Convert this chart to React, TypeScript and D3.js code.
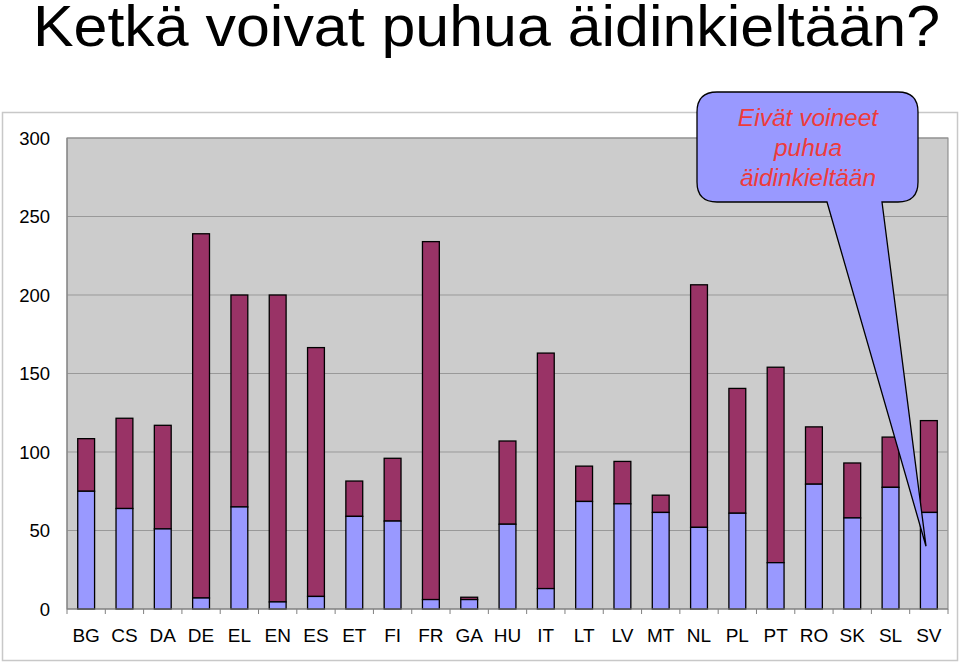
import React from "react";
import * as d3 from "d3";

const categories = ["BG","CS","DA","DE","EL","EN","ES","ET","FI","FR","GA","HU","IT","LT","LV","MT","NL","PL","PT","RO","SK","SL","SV"];
const couldSpeak = [75,64,51,7,65,4.5,8,59,56,6,6,54,13,68.5,67,61.5,52,61,29.5,79.5,58,77.5,61.5];
const totals = [108.5,121.5,117,239,200,200,166.5,81.5,96,234,7.5,107,163,91,94,72.5,206.5,140.5,154,116,93,109.5,120];
const yTicks = [0,50,100,150,200,250,300];
const titleText = "Ketkä voivat puhua äidinkieltään?";
const calloutLines = ["Eivät voineet","puhua","äidinkieltään"];

const W = 960, H = 663;
const left = 67, right = 948, top = 138, bottom = 609;

export default function App() {
  const x = d3.scaleBand<string>().domain(categories).range([left, right]).padding(0);
  const y = d3.scaleLinear().domain([0, 300]).range([bottom, top]);
  const bw = x.bandwidth() * 0.44;
  const font = "'Liberation Sans', Arial, sans-serif";
  const data = categories.map((c, i) => ({ c, a: couldSpeak[i], t: totals[i] }));

  // callout geometry
  const cx0 = 697, cx1 = 918, cy0 = 92, cy1 = 202, r = 20;
  const tipX = 926, tipY = y(40);
  const baseL = 827, baseR = 882;
  const calloutPath = `M${cx0 + r},${cy0} L${cx1 - r},${cy0} Q${cx1},${cy0} ${cx1},${cy0 + r} L${cx1},${cy1 - r} Q${cx1},${cy1} ${cx1 - r},${cy1} L${baseR},${cy1} L${tipX},${tipY} L${baseL},${cy1} L${cx0 + r},${cy1} Q${cx0},${cy1} ${cx0},${cy1 - r} L${cx0},${cy0 + r} Q${cx0},${cy0} ${cx0 + r},${cy0} Z`;

  return (
    <svg width={W} height={H} style={{ position: "absolute", left: 0, top: 0, background: "#fff" }}>
      <text x={33} y={46} textAnchor="start" fontFamily={font} fontSize={57}
        textLength={907} lengthAdjust="spacingAndGlyphs" fill="#000">{titleText}</text>
      <rect x={2.5} y={112.5} width={955} height={548} fill="#fff" stroke="#c8c8c8" strokeWidth={1.5} />
      <rect x={left} y={top} width={right - left} height={bottom - top} fill="#cccccc" stroke="#808080" strokeWidth={1} />
      {yTicks.map(t => (
        <g key={t}>
          {t > 0 && <line x1={left} x2={right} y1={y(t)} y2={y(t)} stroke="#999999" strokeWidth={1} />}
          <text x={50} y={y(t)} dy="0.36em" textAnchor="end" fontFamily={font} fontSize={18.5} fill="#000">{t}</text>
        </g>
      ))}
      <line x1={left} x2={left} y1={top} y2={bottom} stroke="#808080" />
      {data.map(d => {
        const bx = (x(d.c) as number) + (x.bandwidth() - bw) / 2;
        return (
          <g key={d.c}>
            <rect x={bx} y={y(d.t)} width={bw} height={y(d.a) - y(d.t)} fill="#993366" stroke="#000" strokeWidth={1.3} />
            <rect x={bx} y={y(d.a)} width={bw} height={y(0) - y(d.a)} fill="#9999ff" stroke="#000" strokeWidth={1.3} />
          </g>
        );
      })}
      <line x1={left} x2={right} y1={bottom} y2={bottom} stroke="#808080" />
      {categories.concat(["_end"]).map((c, i) => {
        const tx = left + i * x.step();
        return <line key={"t" + i} x1={tx} x2={tx} y1={bottom} y2={bottom + 5} stroke="#808080" />;
      })}
      {categories.map(c => (
        <text key={"l" + c} x={(x(c) as number) + x.bandwidth() / 2} y={642} textAnchor="middle"
          fontFamily={font} fontSize={19} fill="#000">{c}</text>
      ))}
      <path d={calloutPath} fill="#9999ff" stroke="#000" strokeWidth={1.3} />
      {calloutLines.map((l, i) => (
        <text key={l} x={808} y={126 + i * 30} textAnchor="middle" fontFamily={font} fontStyle="italic"
          fontSize={24.5} fill="#ee3b3b">{l}</text>
      ))}
    </svg>
  );
}
